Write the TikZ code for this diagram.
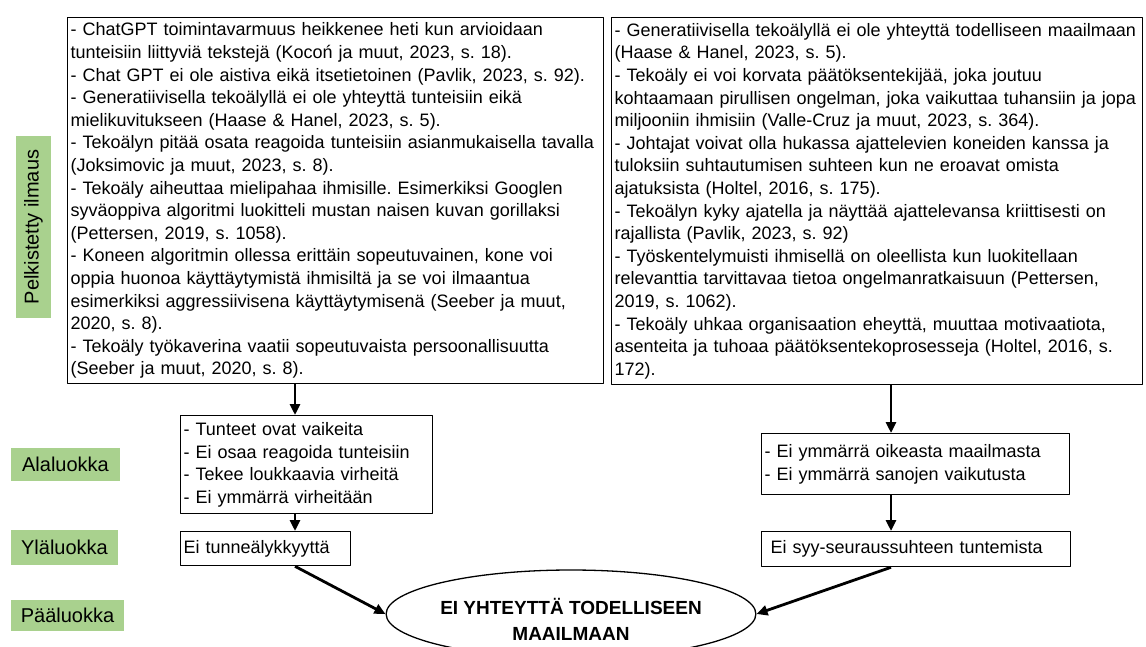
\documentclass[tikz,border=0pt]{standalone}
\usepackage{fontspec}
\setmainfont{Liberation Sans}
\usetikzlibrary{arrows.meta,shapes.geometric}
\definecolor{tagGreen}{RGB}{169,209,142}
\frenchspacing

\begin{document}
\begin{tikzpicture}[x=1pt, y=-1pt, line join=round,
    box/.style={draw, line width=1.3pt, anchor=north west, inner sep=3pt, align=left,
      font=\fontsize{18}{22.6}\selectfont},
    tag/.style={fill=tagGreen, inner sep=0pt, font=\fontsize{20}{24}\selectfont},
    arr/.style={-{Triangle[length=11pt,width=10pt]}, line width=2.8pt}]
    \clip (0,0) rectangle (1146,646);

    \node[tag, rotate=90, minimum width=182, minimum height=35] (pelk) at (33.5,227) {Pelkistetty ilmaus};
    \node[tag, minimum width=109, minimum height=33] (ala) at (65.5,464.5) {Alaluokka};
    \node[tag, minimum width=107, minimum height=35] (yla) at (64.5,547.5) {Yläluokka};
    \node[tag, minimum width=113, minimum height=31] (paa) at (67.5,615.5) {Pääluokka};

    \node[box, text width=530, minimum height=366] (feel) at (67,17) {%
      - ChatGPT toimintavarmuus heikkenee heti kun arvioidaan\\
      tunteisiin liittyviä tekstejä (Kocoń ja muut, 2023, s. 18).\\
      - Chat GPT ei ole aistiva eikä itsetietoinen (Pavlik, 2023, s. 92).\\
      - Generatiivisella tekoälyllä ei ole yhteyttä tunteisiin eikä\\
      mielikuvitukseen (Haase \& Hanel, 2023, s. 5).\\
      - Tekoälyn pitää osata reagoida tunteisiin asianmukaisella tavalla\\
      (Joksimovic ja muut, 2023, s. 8).\\
      - Tekoäly aiheuttaa mielipahaa ihmisille. Esimerkiksi Googlen\\
      syväoppiva algoritmi luokitteli mustan naisen kuvan gorillaksi\\
      (Pettersen, 2019, s. 1058).\\
      - Koneen algoritmin ollessa erittäin sopeutuvainen, kone voi\\
      oppia huonoa käyttäytymistä ihmisiltä ja se voi ilmaantua\\
      esimerkiksi aggressiivisena käyttäytymisenä (Seeber ja muut,\\
      2020, s. 8).\\
      - Tekoäly työkaverina vaatii sopeutuvaista persoonallisuutta\\
      (Seeber ja muut, 2020, s. 8).};
    \node[box, text width=525, minimum height=367] (world) at (611,17) {%
      - Generatiivisella tekoälyllä ei ole yhteyttä todelliseen maailmaan\\
      (Haase \& Hanel, 2023, s. 5).\\
      - Tekoäly ei voi korvata päätöksentekijää, joka joutuu\\
      kohtaamaan pirullisen ongelman, joka vaikuttaa tuhansiin ja jopa\\
      miljooniin ihmisiin (Valle-Cruz ja muut, 2023, s. 364).\\
      - Johtajat voivat olla hukassa ajattelevien koneiden kanssa ja\\
      tuloksiin suhtautumisen suhteen kun ne eroavat omista\\
      ajatuksista (Holtel, 2016, s. 175).\\
      - Tekoälyn kyky ajatella ja näyttää ajattelevansa kriittisesti on\\
      rajallista (Pavlik, 2023, s. 92)\\
      - Työskentelymuisti ihmisellä on oleellista kun luokitellaan\\
      relevanttia tarvittavaa tietoa ongelmanratkaisuun (Pettersen,\\
      2019, s. 1062).\\
      - Tekoäly uhkaa organisaation eheyttä, muuttaa motivaatiota,\\
      asenteita ja tuhoaa päätöksentekoprosesseja (Holtel, 2016, s.\\
      172).};

    \node[box, text width=246, minimum height=98] (tunteet) at (180,415) {%
      - Tunteet ovat vaikeita\\
      - Ei osaa reagoida tunteisiin\\
      - Tekee loukkaavia virheitä\\
      - Ei ymmärrä virheitään};
    \node[box, text width=164, minimum height=34] (tunne) at (180,531) {Ei tunneälykkyyttä};
    \node[box, text width=302, minimum height=61] (ymmarra) at (761,433) {%
      - Ei ymmärrä oikeasta maailmasta\\
      - Ei ymmärrä sanojen vaikutusta};
    \node[box, text width=303, minimum height=35] (syy) at (761,531) {\ Ei syy-seuraussuhteen tuntemista};

    \node[ellipse, draw, line width=1.3pt, minimum width=284, minimum height=88, inner sep=0pt,
      align=center, font=\bfseries\fontsize{19}{26}\selectfont] (goal) at (571,614)
      {\rule{0pt}{26pt}EI YHTEYTTÄ TODELLISEEN\\MAAILMAAN};

    \coordinate (lx) at (295,0);
    \coordinate (rx) at (891,0);
    \draw[arr] (feel.south -| lx) -- (tunteet.north -| lx);
    \draw[arr] (tunteet.south -| lx) -- (tunne.north -| lx);
    \draw[arr] (tunne.south -| lx) -- (goal.west);
    \draw[arr] (world.south -| rx) -- (ymmarra.north -| rx);
    \draw[arr] (ymmarra.south -| rx) -- (syy.north -| rx);
    \draw[arr] (syy.south -| rx) -- (goal.east);
\end{tikzpicture}
\end{document}
